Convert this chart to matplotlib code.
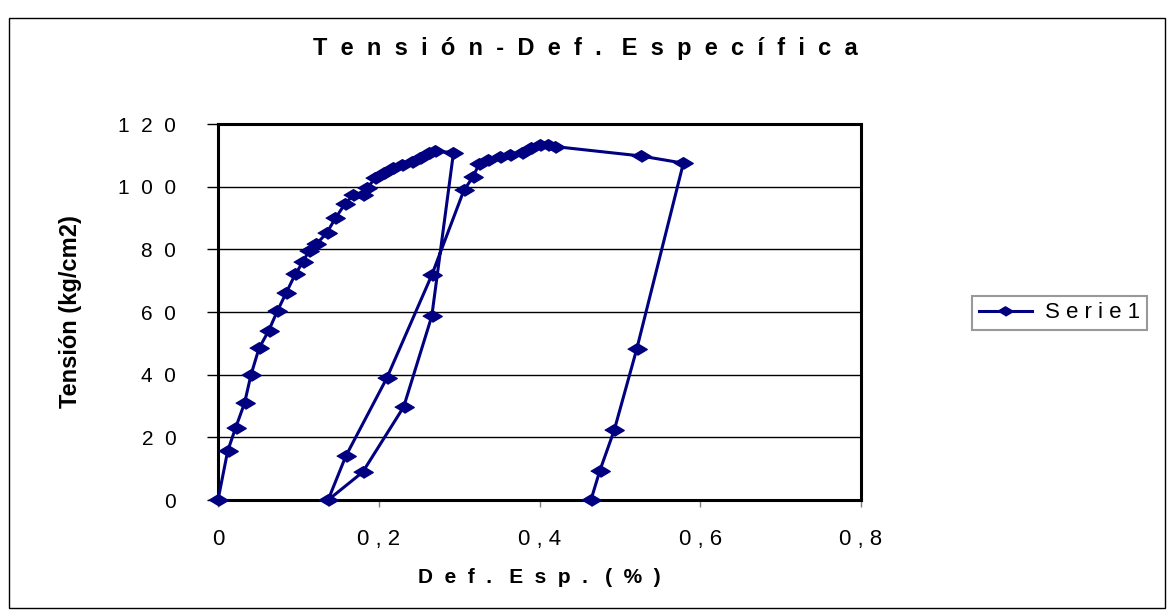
import matplotlib.pyplot as plt
from matplotlib.patches import Rectangle

plt.rcParams['font.family'] = ['Liberation Sans', 'DejaVu Sans']

# Def. Esp. (%) vs Tensión (kg/cm2)
deformacion = [
    0.0, 0.012, 0.022, 0.033, 0.041, 0.051, 0.063, 0.074, 0.085, 0.096,
    0.106, 0.113, 0.122, 0.135, 0.146, 0.158, 0.168, 0.180, 0.186, 0.195,
    0.206, 0.218, 0.229, 0.241, 0.251, 0.262, 0.270, 0.293,
    0.266, 0.231, 0.180, 0.137,
    0.159, 0.210, 0.266, 0.306, 0.317, 0.325, 0.336, 0.351, 0.363, 0.378,
    0.390, 0.401, 0.411, 0.419, 0.526, 0.579,
    0.521, 0.493, 0.475, 0.464,
]
tension = [
    0.0, 15.6, 23.1, 30.9, 39.9, 48.4, 54.0, 60.4, 66.2, 72.0,
    76.1, 79.5, 81.6, 85.1, 89.9, 94.5, 97.2, 97.5, 99.5, 102.7,
    104.3, 105.9, 106.9, 108.0, 109.0, 110.6, 111.3, 110.9,
    58.7, 29.7, 8.9, 0.0,
    14.0, 38.9, 71.8, 98.9, 103.0, 107.3, 108.5, 109.6, 110.1, 110.6,
    112.2, 113.2, 113.3, 112.8, 109.8, 107.5,
    48.2, 22.3, 9.3, 0.0,
]

x_ticks = [0, 0.2, 0.4, 0.6, 0.8]
x_labels = ["0", "0 , 2", "0 , 4", "0 , 6", "0 , 8"]
y_ticks = [0, 20, 40, 60, 80, 100, 120]
y_labels = ["0", "2  0", "4  0", "6  0", "8  0", "1  0  0", "1  2  0"]

navy = "#000080"
diamond = [(-1, 0), (0, 0.6), (1, 0), (0, -0.6)]


def spaced(text, gap="  "):
    # spread letters out like the old spreadsheet chart fonts
    return "   ".join(gap.join(word) for word in text.split(" "))


fig = plt.figure(figsize=(11.7, 6.16), dpi=100)
ax = fig.add_axes([218 / 1170, 116 / 616, 643 / 1170, 376 / 616])

ax.plot(deformacion, tension, color=navy, linewidth=2.2, marker=diamond,
        markersize=14, markerfacecolor=navy, markeredgecolor=navy,
        label="S e r i e 1", clip_on=False, zorder=3)

ax.set_xlim(0, 0.8)
ax.set_ylim(0, 120)
ax.set_xticks(x_ticks)
ax.set_xticklabels(x_labels)
ax.set_yticks(y_ticks)
ax.set_yticklabels(y_labels)
ax.tick_params(axis="y", direction="out", length=8, width=1, pad=22, labelsize=15)
ax.tick_params(axis="x", direction="out", length=5, width=1, pad=16, labelsize=16,
               color="#808080")

ax.yaxis.grid(True, color="black", linewidth=1)
ax.set_axisbelow(True)
for s in ax.spines.values():
    s.set_linewidth(2.2)
    s.set_color("black")

ax.set_xlabel(spaced("Def. Esp. (%)"), fontsize=15, fontweight="bold", labelpad=13)
ax.set_ylabel("Tensión (kg/cm2)", fontsize=17, fontweight="bold", labelpad=26)

fig.text(0.5, 1 - 48 / 616, spaced("Tensión-Def. Específica"),
         ha="center", va="center", fontsize=17, fontweight="bold")

leg = ax.legend(loc="center left", bbox_to_anchor=(961 / 1170, 1 - 313 / 616),
                bbox_transform=fig.transFigure, frameon=True, fancybox=False,
                fontsize=16, handlelength=2.4, handletextpad=0.6,
                borderpad=0.3, markerscale=0.8)
leg.get_frame().set_edgecolor("#808080")
leg.get_frame().set_linewidth(1.5)

# outer chart frame
fig.patches.append(Rectangle((9 / 1170, 8 / 616), 1156 / 1170, 590 / 616,
                             transform=fig.transFigure, fill=False,
                             edgecolor="black", linewidth=1))

fig.savefig("out.png", dpi=100)
